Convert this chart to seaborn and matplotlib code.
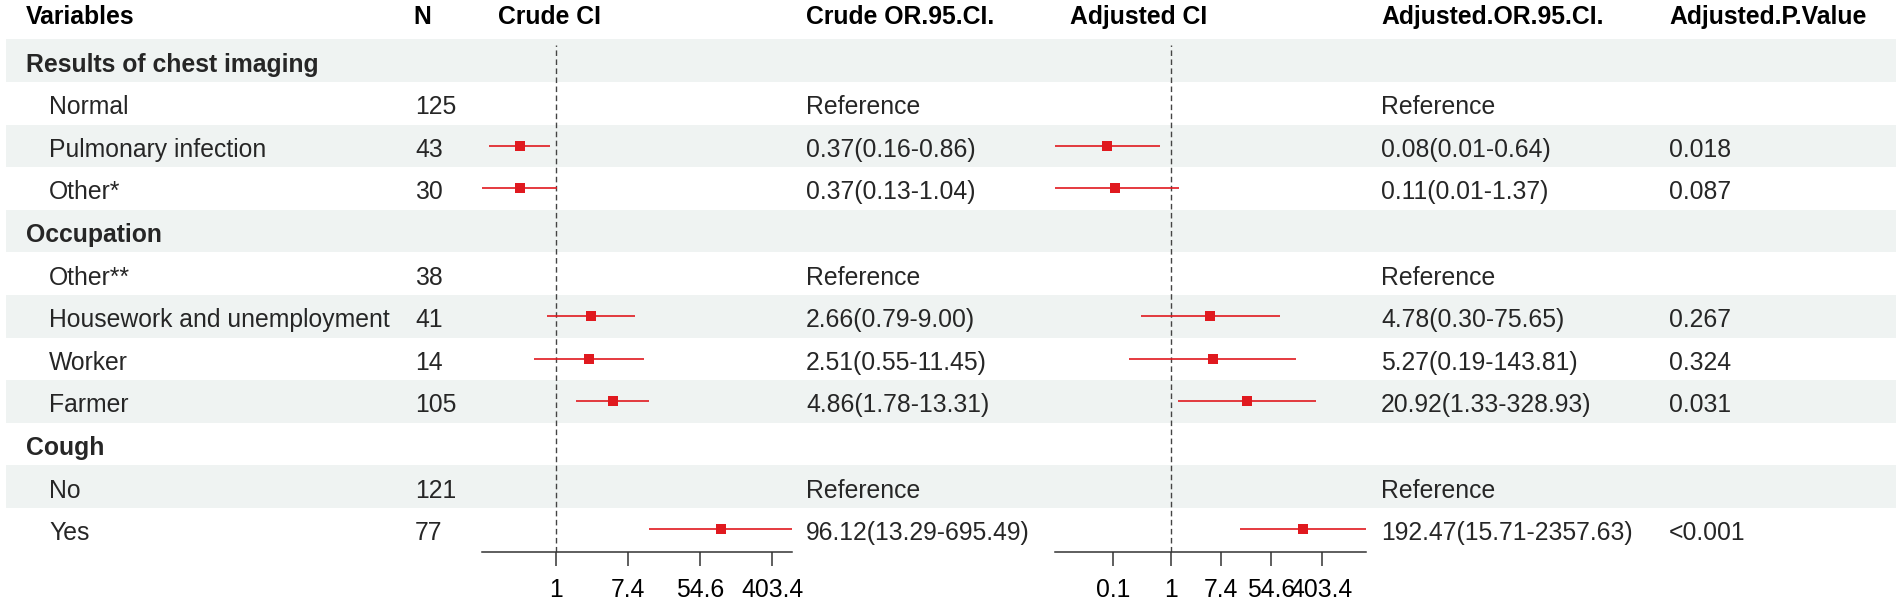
import numpy as np
import pandas as pd
import matplotlib
matplotlib.use("Agg")
import matplotlib.pyplot as plt
from matplotlib.patches import Rectangle
import seaborn as sns

sns.set_theme(style="white")
plt.rcParams["font.family"] = ["Liberation Sans", "DejaVu Sans"]

nan = np.nan
variables = ["Results of chest imaging", "Normal", "Pulmonary infection", "Other*",
             "Occupation", "Other**", "Housework and unemployment", "Worker", "Farmer",
             "Cough", "No", "Yes"]
is_group = [True, False, False, False, True, False, False, False, False, True, False, False]
is_ref = [False, True, False, False, False, True, False, False, False, False, True, False]
n_vals = ["", "125", "43", "30", "", "38", "41", "14", "105", "", "121", "77"]

crude_or = [nan, nan, 0.37, 0.37, nan, nan, 2.66, 2.51, 4.86, nan, nan, 96.12]
crude_lo = [nan, nan, 0.16, 0.13, nan, nan, 0.79, 0.55, 1.78, nan, nan, 13.29]
crude_hi = [nan, nan, 0.86, 1.04, nan, nan, 9.00, 11.45, 13.31, nan, nan, 695.49]

adj_or = [nan, nan, 0.08, 0.11, nan, nan, 4.78, 5.27, 20.92, nan, nan, 192.47]
adj_lo = [nan, nan, 0.01, 0.01, nan, nan, 0.30, 0.19, 1.33, nan, nan, 15.71]
adj_hi = [nan, nan, 0.64, 1.37, nan, nan, 75.65, 143.81, 328.93, nan, nan, 2357.63]
adj_p = ["", "", "0.018", "0.087", "", "", "0.267", "0.324", "0.031", "", "", "<0.001"]

crude_ticks = [1, 7.389, 54.598, 403.429]
crude_ticklabels = ["1", "7.4", "54.6", "403.4"]
adj_ticks = [0.1, 1, 7.389, 54.598, 403.429]
adj_ticklabels = ["0.1", "1", "7.4", "54.6", "403.4"]

headers = ["Variables", "N", "Crude CI", "Crude OR.95.CI.", "Adjusted CI",
           "Adjusted.OR.95.CI.", "Adjusted.P.Value"]

df = pd.DataFrame({"var": variables, "grp": is_group, "ref": is_ref, "n": n_vals,
                   "c_or": crude_or, "c_lo": crude_lo, "c_hi": crude_hi,
                   "a_or": adj_or, "a_lo": adj_lo, "a_hi": adj_hi, "p": adj_p})
df["row"] = np.arange(len(df))


def fmt(o, l, h, ref):
    if ref:
        return "Reference"
    if np.isnan(o):
        return ""
    return f"{o:.2f}({l:.2f}-{h:.2f})"


df["c_txt"] = [fmt(o, l, h, r) for o, l, h, r in zip(df.c_or, df.c_lo, df.c_hi, df.ref)]
df["a_txt"] = [fmt(o, l, h, r) for o, l, h, r in zip(df.a_or, df.a_lo, df.a_hi, df.ref)]

W, H = 1902, 601
fig = plt.figure(figsize=(W / 100, H / 100), dpi=100)
fig.patch.set_facecolor("white")
bg = fig.add_axes([0, 0, 1, 1])
bg.set_xlim(0, W)
bg.set_ylim(H, 0)
bg.axis("off")

top0, rh = 39.3, 42.6
axis_y = 552
FS = 17.8
shade = "#eff3f2"
red = "#e0191f"

for i in df.row:
    top = top0 + i * rh
    if i % 2 == 0:
        bg.add_patch(Rectangle((6, top), 1890, rh, facecolor=shade, edgecolor="none", zorder=0))

# header
hx = [26, 413, 498, 806, 1070, 1381, 1669]
for x, h in zip(hx, headers):
    bg.text(x, 24, h, fontsize=FS, fontweight="bold", ha="left", va="baseline", color="black")

for i, r in df.iterrows():
    base = top0 + r.row * rh + 32.3
    if r.grp:
        bg.text(26, base, r["var"], fontsize=FS, fontweight="bold", va="baseline")
    else:
        bg.text(49, base, r["var"], fontsize=FS, va="baseline")
    bg.text(415, base, r.n, fontsize=FS, va="baseline")
    bg.text(806, base, r.c_txt, fontsize=FS, va="baseline")
    bg.text(1381, base, r.a_txt, fontsize=FS, va="baseline")
    bg.text(1669, base, r.p, fontsize=FS, va="baseline")


def forest(x0, x1, orc, loc, hic, ticks, labels):
    ax = fig.add_axes([x0 / W, (H - axis_y) / H, (x1 - x0) / W, (axis_y - top0) / H])
    ax.patch.set_alpha(0)
    sub = df.dropna(subset=[orc])
    ax.set_xscale("log")
    ax.set_xlim(np.nanmin(df[loc]), np.nanmax(df[hic]))
    ax.set_ylim((axis_y - top0) / rh - 0.5, -0.5)
    ax.hlines(sub["row"], sub[loc], sub[hic], color=red, lw=1.2, zorder=2)
    sns.scatterplot(data=sub, x=orc, y="row", marker="s", s=48, color=red,
                    edgecolor=red, linewidth=0, ax=ax, zorder=3, legend=False)
    ax.axvline(1, ymin=0, ymax=(axis_y - 45) / (axis_y - top0), color="#444444",
               lw=1.0, ls=(0, (4, 2.5)), zorder=1)
    for s in ["top", "left", "right"]:
        ax.spines[s].set_visible(False)
    ax.spines["bottom"].set_color("#333333")
    ax.spines["bottom"].set_linewidth(1.1)
    ax.set_yticks([])
    ax.set_xticks(ticks)
    ax.set_xticklabels(labels)
    ax.minorticks_off()
    ax.tick_params(axis="x", direction="out", length=10, width=1.1, color="#333333",
                   labelsize=FS, pad=8.5, bottom=True, labelcolor="black")
    ax.set_xlabel("")
    ax.set_ylabel("")
    ax.grid(False)
    return ax


forest(482, 792, "c_or", "c_lo", "c_hi", crude_ticks, crude_ticklabels)
forest(1055, 1366, "a_or", "a_lo", "a_hi", adj_ticks, adj_ticklabels)

fig.savefig("out.png", dpi=100, facecolor="white")
